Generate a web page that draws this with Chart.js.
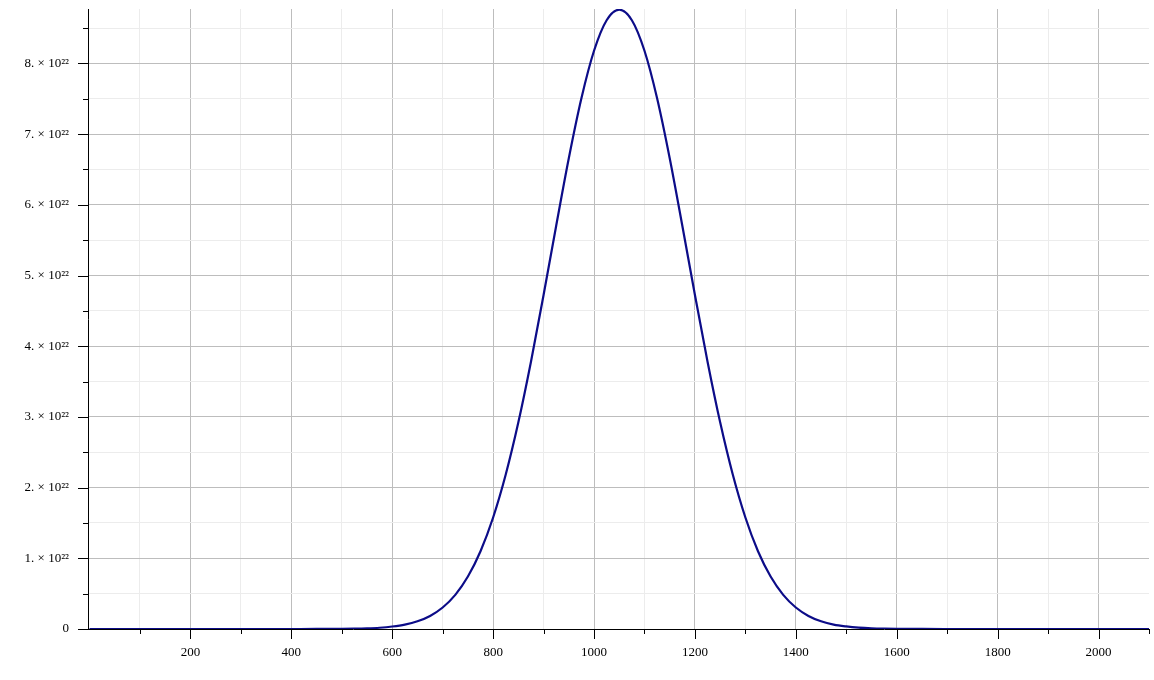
<!DOCTYPE html>
<html>
<head>
<meta charset="utf-8">
<script src="https://cdn.jsdelivr.net/npm/chart.js@4"></script>
<style>
  html, body { margin: 0; padding: 0; background: #ffffff; }
  #wrap { width: 1154px; height: 680px; }
</style>
</head>
<body>
<div id="wrap"><canvas id="c" width="1154" height="680"></canvas></div>
<script>
// ---- data ----
const xValues = [0, 100, 200, 300, 400, 450, 500, 525, 550, 575, 600, 625, 650, 675, 700, 725, 750, 775,
  800, 825, 850, 875, 900, 925, 950, 975, 1000, 1025, 1050, 1075, 1100, 1125, 1150, 1175, 1200, 1225,
  1250, 1275, 1300, 1325, 1350, 1375, 1400, 1425, 1450, 1475, 1500, 1525, 1550, 1575, 1600, 1650,
  1700, 1800, 1900, 2000, 2100];
const yValues = [0, 0, 0, 0, 0.00002e22, 0.0005e22, 0.0022e22, 0.0045e22, 0.0092e22, 0.018e22, 0.035e22,
  0.062e22, 0.109e22, 0.185e22, 0.304e22, 0.483e22, 0.742e22, 1.100e22, 1.577e22, 2.185e22, 2.923e22,
  3.781e22, 4.725e22, 5.705e22, 6.659e22, 7.507e22, 8.179e22, 8.611e22, 8.760e22, 8.611e22, 8.179e22,
  7.507e22, 6.659e22, 5.705e22, 4.725e22, 3.781e22, 2.923e22, 2.185e22, 1.577e22, 1.100e22, 0.742e22,
  0.483e22, 0.304e22, 0.185e22, 0.109e22, 0.062e22, 0.036e22, 0.019e22, 0.0095e22, 0.0046e22, 0.0022e22,
  0.0005e22, 0.0001e22, 0, 0, 0, 0];

const xTickValues = [100, 200, 300, 400, 500, 600, 700, 800, 900, 1000, 1100, 1200, 1300, 1400, 1500,
  1600, 1700, 1800, 1900, 2000, 2100];
const xLabelValues = [200, 400, 600, 800, 1000, 1200, 1400, 1600, 1800, 2000];
const xTickLabels = ['200', '400', '600', '800', '1000', '1200', '1400', '1600', '1800', '2000'];

const yTickValues = [0, 0.5e22, 1e22, 1.5e22, 2e22, 2.5e22, 3e22, 3.5e22, 4e22, 4.5e22, 5e22, 5.5e22,
  6e22, 6.5e22, 7e22, 7.5e22, 8e22, 8.5e22];
const yLabelValues = [0, 1e22, 2e22, 3e22, 4e22, 5e22, 6e22, 7e22, 8e22];
const yTickLabels = ['0', '1. \u00d7 10\u00b2\u00b2', '2. \u00d7 10\u00b2\u00b2', '3. \u00d7 10\u00b2\u00b2',
  '4. \u00d7 10\u00b2\u00b2', '5. \u00d7 10\u00b2\u00b2', '6. \u00d7 10\u00b2\u00b2', '7. \u00d7 10\u00b2\u00b2',
  '8. \u00d7 10\u00b2\u00b2'];

// ---- styling ----
const MAJOR_GRID = '#bdbdbd';
const MINOR_GRID = '#ececec';
const LINE_COLOR = '#0c0c88';
const FONT = { family: '"Liberation Serif", "Times New Roman", serif', size: 13 };

const points = xValues.map((x, i) => ({ x: x, y: yValues[i] }));

const tickMarks = {
  id: 'tickMarks',
  afterDraw(chart) {
    const { ctx, chartArea } = chart;
    const xs = chart.scales.x, ys = chart.scales.y;
    ctx.save();
    ctx.strokeStyle = '#000';
    ctx.lineWidth = 1;
    ctx.beginPath();
    xTickValues.forEach(v => {
      const px = Math.round(xs.getPixelForValue(v)) + 0.5;
      const len = xLabelValues.includes(v) ? 10 : 5;
      ctx.moveTo(px, chartArea.bottom);
      ctx.lineTo(px, chartArea.bottom + len);
    });
    yTickValues.forEach(v => {
      const py = Math.round(ys.getPixelForValue(v)) + 0.5;
      const len = yLabelValues.includes(v) ? 10 : 5;
      ctx.moveTo(chartArea.left, py);
      ctx.lineTo(chartArea.left - len, py);
    });
    ctx.stroke();
    ctx.restore();
  }
};

new Chart(document.getElementById('c'), {
  type: 'line',
  data: {
    datasets: [{
      data: points,
      borderColor: LINE_COLOR,
      borderWidth: 2.2,
      pointRadius: 0,
      fill: false,
      cubicInterpolationMode: 'monotone'
    }]
  },
  options: {
    responsive: false,
    animation: false,
    layout: { padding: { top: 9, right: 5, bottom: 0, left: 0 } },
    plugins: { legend: { display: false }, tooltip: { enabled: false } },
    scales: {
      x: {
        type: 'linear',
        min: -3,
        max: 2100,
        afterBuildTicks: s => { s.ticks = xTickValues.map(v => ({ value: v })); },
        afterFit: s => { s.height = 51; s.paddingLeft = 0; s.paddingRight = 0; },
        grid: {
          drawTicks: false,
          lineWidth: 1,
          color: c => {
            const v = c.tick ? c.tick.value : 0;
            if (v === 2100) return 'rgba(0,0,0,0)';
            return xLabelValues.includes(v) ? MAJOR_GRID : MINOR_GRID;
          }
        },
        border: { display: true, color: '#000', width: 1 },
        ticks: {
          autoSkip: false,
          maxRotation: 0,
          minRotation: 0,
          padding: 15.5,
          color: '#000',
          font: FONT,
          callback: v => {
            const i = xLabelValues.indexOf(v);
            return i >= 0 ? xTickLabels[i] : '';
          }
        }
      },
      y: {
        type: 'linear',
        min: 0,
        max: 8.77e22,
        afterBuildTicks: s => { s.ticks = yTickValues.map(v => ({ value: v })); },
        afterFit: s => { s.width = 88; s.paddingTop = 0; s.paddingBottom = 0; },
        grid: {
          drawTicks: false,
          lineWidth: 1,
          color: c => {
            const v = c.tick ? c.tick.value : 0;
            if (v === 0) return 'rgba(0,0,0,0)';
            return yLabelValues.includes(v) ? MAJOR_GRID : MINOR_GRID;
          }
        },
        border: { display: true, color: '#000', width: 1 },
        ticks: {
          autoSkip: false,
          padding: 19,
          color: '#000',
          font: FONT,
          callback: v => {
            const i = yLabelValues.indexOf(v);
            return i >= 0 ? yTickLabels[i] : '';
          }
        }
      }
    }
  },
  plugins: [tickMarks]
});
</script>
</body>
</html>
